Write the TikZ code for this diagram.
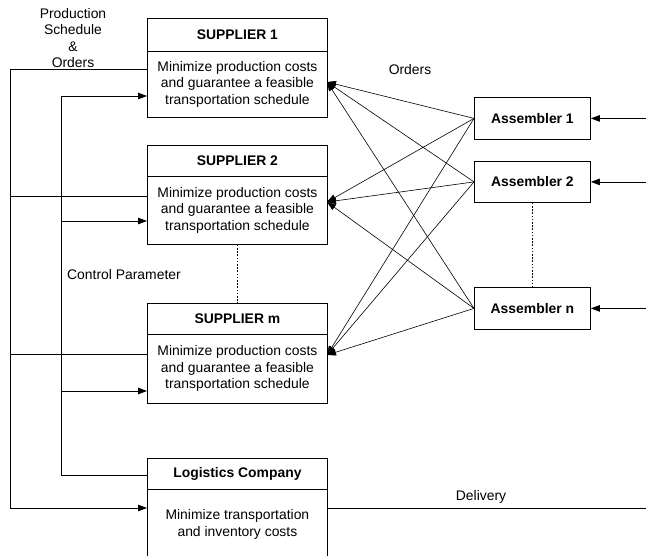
\documentclass[tikz,border=0pt]{standalone}
\usepackage{fontspec}
\setmainfont{Liberation Sans}
\usetikzlibrary{arrows.meta}
\begin{document}
\begin{tikzpicture}[x=1pt,y=-1pt,
  every node/.style={font=\fontsize{13.9}{16.5}\selectfont},
  box/.style={draw, line width=0.8pt, inner sep=0pt, anchor=north west, minimum width=180pt, align=center},
  hbox/.style={box, font=\fontsize{13.9}{16.5}\selectfont\bfseries},
  abox/.style={draw, line width=0.8pt, inner sep=0pt, anchor=north west, minimum width=116pt, minimum height=42pt, font=\fontsize{13.9}{16.5}\selectfont\bfseries},
  conn/.style={line width=0.8pt},
  arr/.style={conn, -{Triangle[length=9pt,width=6.5pt]}},
  dotconn/.style={line width=0.8pt, dash pattern=on 1.6pt off 1.6pt}]
\clip (0,0) rectangle (646,555);

% Suppliers
\node[hbox, minimum height=33pt] (s1h) at (147,18) {SUPPLIER 1};
\node[box, minimum height=66pt] (s1b) at (147,51) {Minimize production costs\\and guarantee a feasible\\transportation schedule};
\node[hbox, minimum height=31pt] (s2h) at (147,145) {SUPPLIER 2};
\node[box, minimum height=68pt] (s2b) at (147,176) {Minimize production costs\\and guarantee a feasible\\transportation schedule};
\node[hbox, minimum height=31pt] (smh) at (147,303) {SUPPLIER m};
\node[box, minimum height=69pt] (smb) at (147,334) {Minimize production costs\\and guarantee a feasible\\transportation schedule};
\node[hbox, minimum height=31pt] (lh) at (147,458) {Logistics Company};
\node[box, minimum height=70pt] (lb) at (147,489) {Minimize transportation\\and inventory costs};

% Assemblers
\node[abox] (a1) at (474,97) {Assembler 1};
\node[abox, minimum height=41pt] (a2) at (474,161) {Assembler 2};
\node[abox] (an) at (474,287) {Assembler n};

% Labels
\node[align=center] (lp) at (73,38) {Production\\Schedule\\\&\\Orders};
\node[anchor=west, inner sep=0pt] (lc) at (67,275) {Control Parameter};
\node (lo) at (410,70) {Orders};
\node (ld) at (481,497) {Delivery};

% coordinates
\coordinate (o1) at (10,69);
\coordinate (o2) at (10,196);
\coordinate (o3) at (10,354);
\coordinate (o4) at (10,508);
\coordinate (i1) at (61,96);
\coordinate (i2) at (61,221);
\coordinate (i3) at (61,391);
\coordinate (i4) at (61,475);
\coordinate (rx) at (646,0);
\coordinate (t1) at (327,82);
\coordinate (t2) at (327,202);
\coordinate (t3) at (327,355);

% left-side lines
\draw[conn] (s1b.west |- o1) -- (o1);
\draw[arr] (o1) -- (o4) -- (lb.west |- o4);
\draw[conn] (o2) -- (s2b.west |- o2);
\draw[conn] (o3) -- (smb.west |- o3);
\draw[arr] (i1) -- (s1b.west |- i1);
\draw[arr] (i2) -- (s2b.west |- i2);
\draw[arr] (i3) -- (smb.west |- i3);
\draw[conn] (i1) -- (i4) -- (lh.west |- i4);

% dotted
\draw[dotconn] (s2b.south) -- (smh.north);
\draw[dotconn] (a2.south) -- (an.north);

% orders
\foreach \a in {a1,a2,an}
  \foreach \t in {t1,t2,t3}
    \draw[arr, line width=0.6pt] (\a.west) -- (\t);

% inputs to assemblers
\draw[arr] (a1.east -| rx) -- (a1.east);
\draw[arr] (a2.east -| rx) -- (a2.east);
\draw[arr] (an.east -| rx) -- (an.east);

% delivery
\draw[conn] (lb.east |- o4) -- (o4 -| rx);
\end{tikzpicture}
\end{document}
